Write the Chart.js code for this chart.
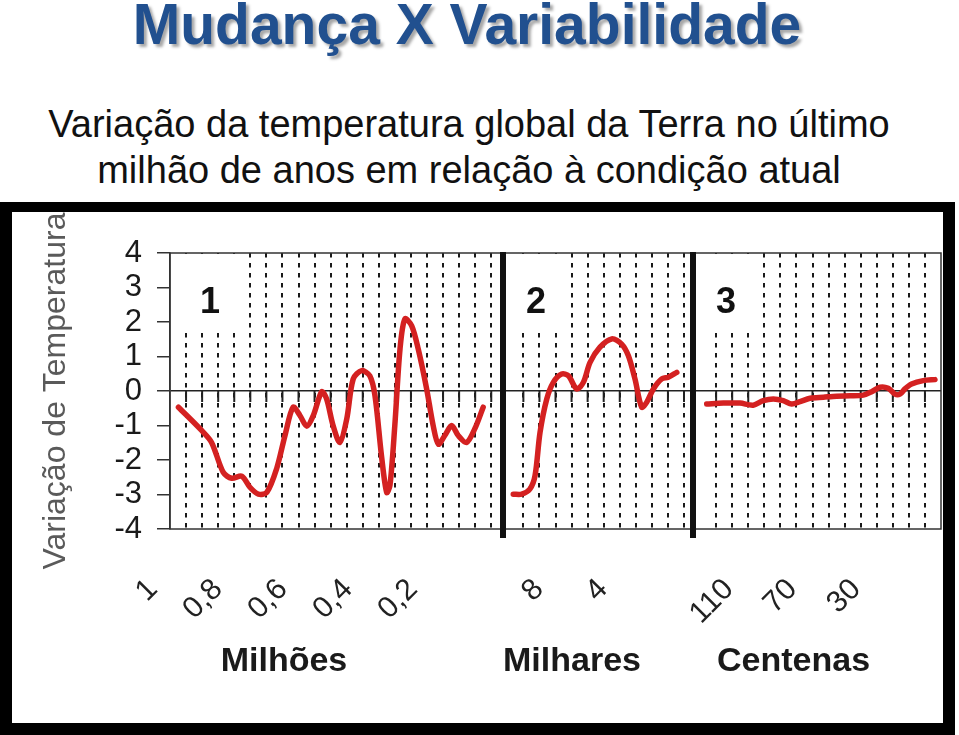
<!DOCTYPE html>
<html lang="pt">
<head>
<meta charset="utf-8">
<title>Mudança X Variabilidade</title>
<script src="https://cdn.jsdelivr.net/npm/chart.js@4.4.1/dist/chart.umd.min.js"></script>
<style>
    body {
        margin: 0;
        width: 959px;
        height: 735px;
        position: relative;
        overflow: hidden;
        background: #fff;
        font-family: "Liberation Sans", Arial, sans-serif;
    }
    #titulo {
        position: absolute;
        left: 0;
        top: -4px;
        width: 934px;
        text-align: center;
        white-space: nowrap;
        font: bold 57px/56px "Liberation Sans", Arial, sans-serif;
        color: #21508f;
        text-shadow: 3px 3px 3px rgba(0, 0, 0, 0.35);
    }
    #subtitulo {
        position: absolute;
        left: 0;
        top: 101px;
        width: 938px;
        text-align: center;
        white-space: nowrap;
        font: 38px/46px "Liberation Sans", Arial, sans-serif;
        color: #111;
    }
    #moldura {
        position: absolute;
        left: 0;
        top: 202px;
        width: 955px;
        height: 533px;
        box-sizing: border-box;
        border: 12px solid #000;
        border-top-width: 10px;
        background: #fff;
    }
    #grafico {
        display: block;
    }
</style>
</head>
<body>
<div id="titulo">Mudança X Variabilidade</div>
<div id="subtitulo">Variação da temperatura global da Terra no último<br>milhão de anos em relação à condição atual</div>
<div id="moldura"><canvas id="grafico" width="931" height="511"></canvas></div>

<script>
//////////////////////////////////////--------DADOS----------//////////////////////////////////////
// 1 - ultimo milhao de anos (milhoes de anos atras)
const milhoesX = [0.974, 0.902, 0.872, 0.836, 0.810, 0.779, 0.754, 0.728, 0.702, 0.672, 0.646, 0.621, 0.600, 0.579,
    0.559, 0.533, 0.518, 0.498, 0.477, 0.456, 0.436, 0.410, 0.385, 0.369, 0.349, 0.333, 0.323, 0.308, 0.292, 0.277,
    0.256, 0.236, 0.210, 0.190, 0.174, 0.154, 0.133, 0.113, 0.087, 0.062, 0.036]
const milhoesY = [-0.47, -1.15, -1.49, -2.36, -2.53, -2.47, -2.79, -2.99, -2.94, -2.26, -1.29, -0.47, -0.71, -1.02,
    -0.71, -0.02, -0.23, -1.0, -1.49, -0.81, 0.35, 0.59, 0.44, -0.14, -1.88, -2.94, -2.74, -1.0, 1.22, 2.09,
    1.89, 1.22, 0.06, -1.0, -1.54, -1.29, -1.0, -1.29, -1.49, -1.1, -0.47]

// 2 - milhares de anos atras
const milharesX = [10.66, 10.13, 9.62, 9.30, 8.99, 8.57, 8.16, 7.64, 7.22, 6.70, 6.29, 5.87, 5.25, 4.52, 3.90, 3.48,
    3.07, 2.65, 2.34, 1.92, 1.40, 0.99, 0.46]
const milharesY = [-2.99, -2.99, -2.84, -2.45, -1.2, -0.23, 0.25, 0.49, 0.44, 0.06, 0.25, 0.83, 1.27, 1.51, 1.36, 1.02,
    0.35, -0.47, -0.33, 0.06, 0.35, 0.40, 0.54]

// 3 - centenas de anos atras
const centenasX = [134.7, 124.2, 113.7, 105.4, 99.1, 92.8, 86.5, 81.2, 76.0, 69.7, 61.3, 53.0, 44.6, 36.2, 30.9, 25.7,
    20.5, 16.3, 13.1, 10.0, 5.8, -1.5, -8.9]
const centenasY = [-0.38, -0.35, -0.35, -0.41, -0.28, -0.23, -0.28, -0.38, -0.31, -0.21, -0.18, -0.15, -0.14, -0.12,
    -0.02, 0.11, 0.08, -0.09, -0.09, 0.06, 0.2, 0.3, 0.33]

// ticks e rotulos
const ticksMilhoes = [1, 0.8, 0.6, 0.4, 0.2]
const ticksMilhares = [8, 4]
const ticksCentenas = [110, 70, 30]
const ticksTemperatura = [-4, -3, -2, -1, 0, 1, 2, 3, 4]
const titulosEixos = ['Milhões', 'Milhares', 'Centenas']
const painelRotulos = ['1', '2', '3']
const tituloY = 'Variação de Temperatura'

////////////////////////////////////////////////////////////////////////////////////////////////////
const fonte = '"Liberation Sans", Arial, sans-serif'
Chart.defaults.font.family = fonte
Chart.defaults.color = '#222'

var vermelho = '#d42121'
var boxWidths = [72, 58, 58]

function pontos(xs, ys) {
    return xs.map((x, i) => ({ x: x, y: ys[i] }))
}

// colunas da grade que ficam por baixo das barras divisorias
function colunaEscondida(chart, value) {
    const s = chart.scales;
    if (value <= 0 || value >= 48) return true
    const px = s.x4.getPixelForValue(value);
    return Math.abs(px - s.x2.left) < 8 || Math.abs(px - s.x3.left) < 8
}

// the rotated labels ask for side padding, which would shrink the plot
function semPadding(s) {
    s.paddingLeft = 0;
    s.paddingRight = 0;
}

function eixoX(min, max, peso, ticks, titulo) {
    return {
        type: 'linear',
        position: 'bottom',
        stack: 'tempo',
        stackWeight: peso,
        reverse: true,
        min: min,
        max: max,
        grid: { display: false, drawTicks: false },
        border: { display: false },
        afterBuildTicks: s => { s.ticks = ticks.map(v => ({ value: v })) },
        afterFit: s => {
            s.height = 194;
            semPadding(s);
        },
        ticks: {
            autoSkip: false,
            minRotation: 45,
            maxRotation: 45,
            padding: 43,
            labelOffset: -17,
            color: '#222',
            font: { size: 30 },
            callback: v => String(v).replace('.', ',')
        },
        title: { display: false, text: titulo }
    }
}

const decoracao = {
    id: 'decoracao',
    beforeDatasetsDraw(chart) {
        const { ctx, chartArea: area, scales } = chart;
        const y0 = scales.y.getPixelForValue(0);
        ctx.save();
        //small solid marks under the zero line
        ctx.strokeStyle = '#222';
        ctx.lineWidth = 2;
        scales.x4.ticks.forEach(t => {
            if (colunaEscondida(chart, t.value)) return
            const px = scales.x4.getPixelForValue(t.value);
            ctx.beginPath();
            ctx.moveTo(px, y0);
            ctx.lineTo(px, y0 + 11);
            ctx.stroke();
        })
        //white boxes with the panel numbers
        ctx.font = 'bold 36px ' + fonte;
        ctx.textAlign = 'center';
        ['x1', 'x2', 'x3'].forEach((id, i) => {
            const bx = scales[id].left + 4;
            ctx.fillStyle = '#fff';
            ctx.fillRect(bx, area.top + 1, boxWidths[i], 76);
            ctx.fillStyle = '#111';
            ctx.fillText(painelRotulos[i], bx + boxWidths[i] / 2, area.top + 60);
        })
        ctx.restore();
    },
    afterDatasetsDraw(chart) {
        const { ctx, chartArea: area, scales } = chart;
        ctx.save();
        ctx.strokeStyle = '#333';
        ctx.lineWidth = 1.5;
        ctx.strokeRect(area.left, area.top, area.width, area.height);
        ctx.fillStyle = '#111';
        ['x2', 'x3'].forEach(id => {
            ctx.fillRect(scales[id].left - 3, area.top - 1, 6, area.height + 10);
        })
        ctx.restore();
    },
    afterDraw(chart) {
        const { ctx, scales } = chart;
        ctx.save();
        ctx.font = 'bold 34px ' + fonte;
        ctx.fillStyle = '#1a1a1a';
        ctx.textAlign = 'center';
        ['x1', 'x2', 'x3'].forEach(id => {
            const s = scales[id];
            const px = s.ticks.map(t => s.getPixelForValue(t.value));
            const cx = px.reduce((a, b) => a + b, 0) / px.length - 16;
            ctx.fillText(s.options.title.text, cx, s.top + 142);
        })
        ctx.restore();
    }
}

function serie(xs, ys, eixo) {
    return {
        data: pontos(xs, ys),
        xAxisID: eixo,
        yAxisID: 'y',
        borderColor: vermelho,
        borderWidth: 5.5,
        pointRadius: 0,
        tension: 0.3,
        borderCapStyle: 'round',
        borderJoinStyle: 'round',
        fill: false
    }
}

var ctxGrafico = document.getElementById('grafico').getContext('2d');

let grafico = new Chart(ctxGrafico, {
    type: 'line',
    data: {
        datasets: [
            serie(milhoesX, milhoesY, 'x1'),
            serie(milharesX, milharesY, 'x2'),
            serie(centenasX, centenasY, 'x3')
        ]
    },
    options: {
        responsive: false,
        animation: false,
        devicePixelRatio: 1,
        layout: { padding: { left: 25, top: 41, right: 2, bottom: 0 } },
        plugins: {
            legend: { display: false },
            tooltip: { enabled: false }
        },
        scales: {
            x1: eixoX(-0.025, 1, 333, ticksMilhoes, titulosEixos[0]),
            x2: eixoX(-0.55, 11.3, 190, ticksMilhares, titulosEixos[1]),
            x3: eixoX(-12.7, 143.3, 248, ticksCentenas, titulosEixos[2]),
            //dotted grid over the whole plot
            x4: {
                type: 'linear',
                position: 'top',
                min: 0,
                max: 48,
                ticks: { display: false, stepSize: 1 },
                grid: {
                    drawTicks: false,
                    lineWidth: 2,
                    color: c => colunaEscondida(c.chart, c.tick.value) ? 'rgba(0,0,0,0)' : '#1a1a1a'
                },
                border: { display: false, dash: [4.5, 5.5] },
                afterFit: s => {
                    s.height = 0;
                    semPadding(s);
                }
            },
            y: {
                type: 'linear',
                position: 'left',
                min: -4,
                max: 4,
                afterBuildTicks: s => { s.ticks = ticksTemperatura.map(v => ({ value: v })) },
                afterFit: s => { s.width = 133 },
                ticks: { autoSkip: false, padding: 15, color: '#1a1a1a', font: { size: 31 } },
                grid: {
                    color: c => c.tick && c.tick.value === 0 ? '#222' : 'rgba(0,0,0,0)',
                    lineWidth: 1.5,
                    tickColor: '#333',
                    tickLength: 13,
                    tickWidth: 1.5
                },
                border: { color: '#333', width: 1.5 },
                title: { display: true, text: tituloY, color: '#5a5a5a', font: { size: 32 }, padding: 0 }
            }
        }
    },
    plugins: [decoracao]
})
</script>
</body>
</html>
